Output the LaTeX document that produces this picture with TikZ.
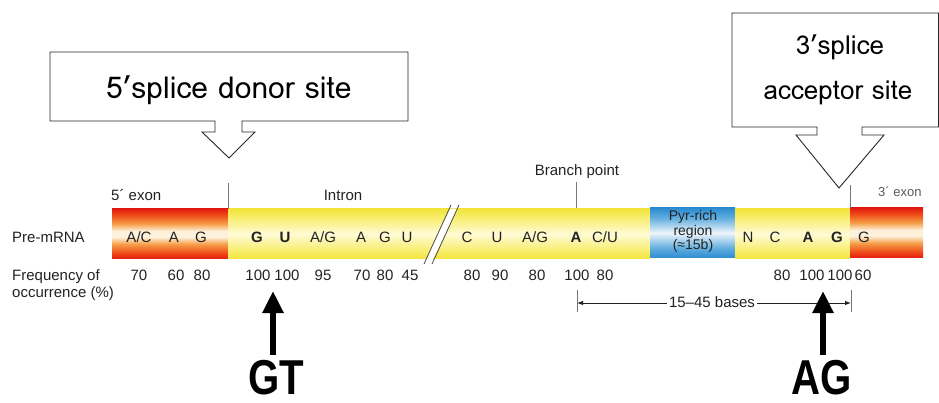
\documentclass[tikz,border=0pt]{standalone}
\usepackage{fontspec}
\setmainfont{Liberation Sans}
\newfontfamily\calloutfont{Loma}
\usetikzlibrary{arrows.meta}

% colours of the gene bar
\definecolor{exred}{HTML}{E31B12}
\definecolor{exredb}{HTML}{EE4A16}
\definecolor{exorange}{HTML}{F6A04A}
\definecolor{exlight}{HTML}{FDF1DC}
\definecolor{yedge}{HTML}{F2E53C}
\definecolor{ysoft}{HTML}{F8EE70}
\definecolor{ymid}{HTML}{FFFBD6}
\definecolor{bedge}{HTML}{2B8BD0}
\definecolor{bsoft}{HTML}{62AEDF}
\definecolor{bmid}{HTML}{EEF5FA}
\definecolor{labelgray}{HTML}{222222}
\definecolor{rulegray}{HTML}{777777}

% stripe-like vertical shadings (the path box spans 25bp..75bp)
\pgfdeclareverticalshading{exonshade}{100bp}{color(0bp)=(exred); color(25bp)=(exred);
  color(31bp)=(exredb); color(40bp)=(exorange); color(47bp)=(exlight); color(53bp)=(exlight);
  color(60bp)=(exorange); color(69bp)=(exredb); color(75bp)=(exred); color(100bp)=(exred)}
\pgfdeclareverticalshading{intronshade}{100bp}{color(0bp)=(yedge); color(25bp)=(yedge);
  color(34bp)=(ysoft); color(50bp)=(ymid); color(66bp)=(ysoft); color(75bp)=(yedge); color(100bp)=(yedge)}
\pgfdeclareverticalshading{pyrshade}{100bp}{color(0bp)=(bedge); color(25bp)=(bedge);
  color(35bp)=(bsoft); color(50bp)=(bmid); color(65bp)=(bsoft); color(75bp)=(bedge); color(100bp)=(bedge)}

\begin{document}
\begin{tikzpicture}[x=1pt,y=-1pt,
  lbl/.style={inner sep=0pt, anchor=base, text=labelgray, font=\fontsize{15}{18}\selectfont},
  seq/.style={lbl},
  seqb/.style={lbl, font=\fontsize{15}{18}\selectfont\bfseries},
  freq/.style={lbl},
  small/.style={inner sep=0pt, anchor=base, text=labelgray, font=\fontsize{14}{15}\selectfont, align=center},
  bigtag/.style={inner sep=0pt, anchor=base, text depth=0pt, xscale=0.82, font=\fontsize{49}{54}\selectfont\bfseries},
  bigarrow/.style={line width=6pt, -{Triangle[width=20pt,length=22pt]}},
  boundary/.style={draw=rulegray, line width=0.8pt},
  dimarrow/.style={draw=labelgray, line width=0.9pt, -{Latex[length=6pt,width=4.5pt]}},
  callout/.style={draw=black!85, line width=0.9pt, fill=white},
  callouttext/.style={inner sep=0pt, anchor=base, font=\calloutfont\fontsize{26}{30}\selectfont}
]
\useasboundingbox (0,0) rectangle (939,403);
\clip (0,0) rectangle (939,403);

% ---------- gene bar ----------
\shade[shading=exonshade] (112,209) rectangle (228,259);
\shade[shading=intronshade] (228,209) rectangle (650,259);
\shade[shading=pyrshade] (650,208) rectangle (735,258);
\shade[shading=intronshade] (735,209) rectangle (850,259);
\shade[shading=exonshade] (850,208) rectangle (923,258);

% break in the intron
\fill[white] (426,259) -- (450,209) -- (457,209) -- (433,259) -- cycle;
\draw[draw=black!70, line width=0.8pt] (424,264) -- (451,205) (432,264) -- (459,205);

% region boundaries and branch point tick
\coordinate (b5top) at (228,183);  \coordinate (b5bot) at (228,209);
\coordinate (b3top) at (850,185);  \coordinate (b3bot) at (850,208);
\coordinate (bptop) at (576,182);  \coordinate (bpbot) at (576,208);
\draw[boundary] (b5top) -- (b5bot);
\draw[boundary] (b3top) -- (b3bot);
\draw[boundary] (bptop) -- (bpbot);

% ---------- region headings ----------
\node[lbl, anchor=base west] (exon5) at (111,201) {5´ exon};
\node[lbl] (intron) at (343,201) {Intron};
\node[lbl] (branch) at (577,176) {Branch point};
\node[lbl, anchor=base west, font=\fontsize{13}{15}\selectfont, text=black!65] (exon3) at (878,197) {3´ exon};

% ---------- row labels ----------
\node[lbl, anchor=base west] (premrna) at (12,243) {Pre-mRNA};
\node[lbl, anchor=base west] (freqa) at (12,280) {Frequency of};
\node[lbl, anchor=base west] (freqb) at (12,298) {occurrence (\%)};

% ---------- sequence ----------
\node[seq]  (s1)  at (139,243) {A/C};
\node[seq]  (s2)  at (174,243) {A};
\node[seq]  (s3)  at (201,243) {G};
\node[seqb] (s4)  at (257,243) {G};
\node[seqb] (s5)  at (285,243) {U};
\node[seq]  (s6)  at (323,243) {A/G};
\node[seq]  (s7)  at (361,243) {A};
\node[seq]  (s8)  at (385,243) {G};
\node[seq]  (s9)  at (407,243) {U};
\node[seq]  (s10) at (467,243) {C};
\node[seq]  (s11) at (497,243) {U};
\node[seq]  (s12) at (535,243) {A/G};
\node[seqb] (s13) at (576,243) {A};
\node[seq]  (s14) at (605,243) {C/U};
\node[seq]  (s15) at (748,243) {N};
\node[seq]  (s16) at (775,243) {C};
\node[seqb] (s17) at (808,243) {A};
\node[seqb] (s18) at (837,243) {G};
\node[seq]  (s19) at (864,243) {G};

\node[small] (pyr1) at (693,221) {Pyr-rich};
\node[small] (pyr2) at (693,236) {region};
\node[small] (pyr3) at (693,250) {(≈15b)};

% ---------- frequencies ----------
\node[freq] (f1)  at (139,280) {70};
\node[freq] (f2)  at (176,280) {60};
\node[freq] (f3)  at (202,280) {80};
\node[freq] (f4)  at (258,280) {100};
\node[freq] (f5)  at (287,280) {100};
\node[freq] (f6)  at (323,280) {95};
\node[freq] (f7)  at (362,280) {70};
\node[freq] (f8)  at (385,280) {80};
\node[freq] (f9)  at (410,280) {45};
\node[freq] (f10) at (472,280) {80};
\node[freq] (f11) at (500,280) {90};
\node[freq] (f12) at (537,280) {80};
\node[freq] (f13) at (577,280) {100};
\node[freq] (f14) at (605,280) {80};
\node[freq] (f15) at (782,280) {80};
\node[freq] (f16) at (812,280) {100};
\node[freq] (f17) at (840,280) {100};
\node[freq] (f18) at (863,280) {60};

% ---------- 15-45 bases span ----------
\coordinate (tlt) at (577,290); \coordinate (tlb) at (577,312);
\coordinate (trt) at (851,290); \coordinate (trb) at (851,312);
\coordinate (tl) at (577,303);  \coordinate (tr) at (851,303);
\draw[boundary, draw=black!55] (tlt) -- (tlb);
\draw[boundary, draw=black!55] (trt) -- (trb);
\node[lbl] (span) at (712,307) {15–45 bases};
\draw[dimarrow] (span.west |- tl) ++(-2,0) -- (tl);
\draw[dimarrow] (span.east |- tr) ++(2,0) -- (tr);

% ---------- GT / AG markers ----------
\node[bigtag] (gt) at (276,394) {GT};
\node[bigtag] (ag) at (822,394) {AG};
\coordinate (gttip) at (273,291);
\coordinate (agtip) at (823,291);
\draw[bigarrow] (gt.north -| gttip) ++(0,-5) -- (gttip);
\draw[bigarrow] (ag.north -| agtip) ++(0,-5) -- (agtip);

% ---------- callouts ----------
\draw[callout] (50,52) -- (408,52) -- (408,121) -- (242,121) -- (242,132) -- (255,132)
  -- (229,158) -- (202,132) -- (215,132) -- (215,121) -- (50,121) -- cycle;
\node[callouttext, font=\calloutfont\fontsize{30}{34}\selectfont] (donor) at (229,99) {5’splice donor site};

\draw[callout] (732,13) -- (938.5,13) -- (938.5,127) -- (862,127) -- (862,135) -- (884,135)
  -- (839,188) -- (796,135) -- (817,135) -- (817,127) -- (732,127) -- cycle;
\node[callouttext] (acc1) at (840,55) {3’splice};
\node[callouttext] (acc2) at (838,100) {acceptor site};
\end{tikzpicture}
\end{document}
